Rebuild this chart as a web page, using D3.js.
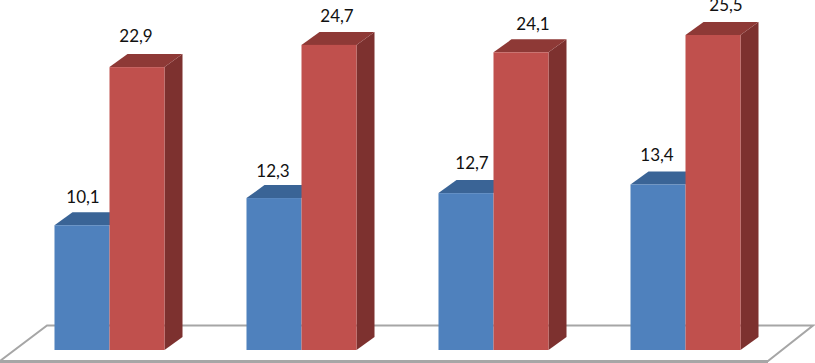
<!DOCTYPE html>
<html>
  <head>
    <meta charset="utf-8">
    <title></title>
    <style>
      html, body { margin: 0; padding: 0; background: #fff; }
      svg { display: block; }
    </style>
  </head>
  <body>
    <div id="chart"></div>
    <script src="https://d3js.org/d3.v7.min.js" charset="utf-8"></script>
    <script>
      const width = 815;
      const height = 363;

      const groups = ['a', 'b', 'c', 'd'];
      const seriesNames = ['blue', 'red'];
      const blueValues = [10.1, 12.3, 12.7, 13.4];
      const redValues = [22.9, 24.7, 24.1, 25.5];

      // fake 3d depth of the bars
      const depthX = 18;
      const depthY = -13;

      const colors = {
        blue: { front: '#4f81bd', top: '#3a6496' },
        red: { front: '#c0504d', top: '#8e3936', side: '#7d312f' }
      };

      // labels were hand placed in the original, nudges from bar centre
      const labelNudge = {
        blue: [[1, -22], [-1, -21], [6, -24], [-1, -23]],
        red: [[-1, -25], [8, -23], [12, -22], [13, -24]]
      };

      const x0 = d3.scaleBand().domain(groups).range([13.5, 781.5])
        .paddingInner(0.427).paddingOuter(0.2135);
      const x1 = d3.scaleBand().domain(seriesNames).range([0, x0.bandwidth()]);
      const y = d3.scaleLinear().domain([0, 25.5]).range([350, 35]);

      const svg = d3.select('#chart').append('svg')
        .attr('width', width)
        .attr('height', height);

      // floor
      svg.append('path')
        .attr('d', 'M47,325.5H813L768,361H0Z')
        .attr('fill', '#fff')
        .attr('stroke', '#a6a6a6')
        .attr('stroke-width', 2);
      svg.append('line')
        .attr('x1', 0).attr('x2', 768)
        .attr('y1', 361.5).attr('y2', 361.5)
        .attr('stroke', '#a6a6a6')
        .attr('stroke-width', 3);

      const drawBar = function(g, name, value, left) {
        const w = x1.bandwidth();
        const right = left + w;
        const top = y(value);
        const bottom = y(0);
        const c = colors[name];

        if (c.side) {
          g.append('path')
            .attr('d', d3.line()([
              [right, top], [right + depthX, top + depthY],
              [right + depthX, bottom + depthY], [right, bottom]
            ]) + 'Z')
            .attr('fill', c.side);
        }
        g.append('path')
          .attr('d', d3.line()([
            [left, top], [left + depthX, top + depthY],
            [right + depthX, top + depthY], [right, top]
          ]) + 'Z')
          .attr('fill', c.top);
        g.append('rect')
          .attr('x', left)
          .attr('y', top)
          .attr('width', w)
          .attr('height', bottom - top)
          .attr('fill', c.front);
      };

      groups.forEach(function(group, i) {
        const g = svg.append('g');
        drawBar(g, 'blue', blueValues[i], x0(group) + x1('blue'));
        drawBar(g, 'red', redValues[i], x0(group) + x1('red'));
      });

      const fmt = (v) => v.toFixed(1).replace('.', ',');

      seriesNames.forEach(function(name) {
        const values = name === 'blue' ? blueValues : redValues;
        svg.append('g').selectAll('text').data(values).enter()
          .append('text')
          .attr('x', (d, i) => x0(groups[i]) + x1(name) + x1.bandwidth() / 2 + labelNudge[name][i][0])
          .attr('y', (d, i) => y(d) + labelNudge[name][i][1])
          .attr('text-anchor', 'middle')
          .attr('font-family', 'Lato, sans-serif')
          .attr('font-size', 17)
          .attr('fill', '#111')
          .text(fmt);
      });
    </script>
  </body>
</html>
